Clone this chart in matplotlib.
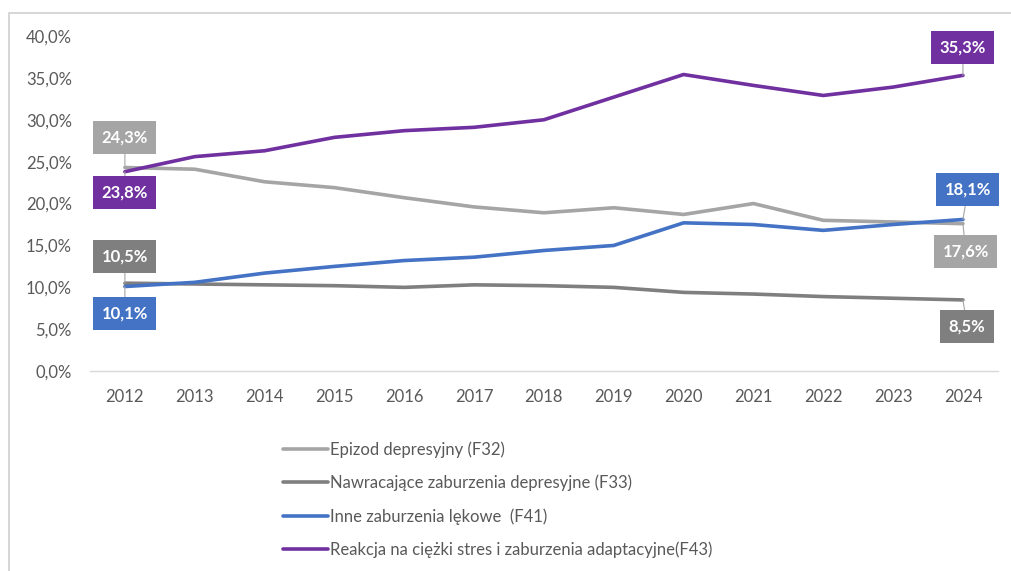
import matplotlib.pyplot as plt
from matplotlib.patches import Rectangle
from matplotlib.ticker import FuncFormatter

plt.rcParams['font.family'] = ['Lato', 'DejaVu Sans']

years = [2012, 2013, 2014, 2015, 2016, 2017, 2018, 2019, 2020, 2021, 2022, 2023, 2024]
f32 = [24.3, 24.1, 22.6, 21.9, 20.7, 19.6, 18.9, 19.5, 18.7, 20.0, 18.0, 17.8, 17.6]
f33 = [10.5, 10.4, 10.3, 10.2, 10.0, 10.3, 10.2, 10.0, 9.4, 9.2, 8.9, 8.7, 8.5]
f41 = [10.1, 10.6, 11.7, 12.5, 13.2, 13.6, 14.4, 15.0, 17.7, 17.5, 16.8, 17.5, 18.1]
f43 = [23.8, 25.6, 26.3, 27.9, 28.7, 29.1, 30.0, 32.7, 35.4, 34.1, 32.9, 33.9, 35.3]

names = ["Epizod depresyjny (F32)",
         "Nawracające zaburzenia depresyjne (F33)",
         "Inne zaburzenia lękowe  (F41)",
         "Reakcja na ciężki stres i zaburzenia adaptacyjne(F43)"]
colors = ["#A5A5A5", "#7F7F7F", "#4472C4", "#7030A0"]
series = [f32, f33, f41, f43]

# label offsets in points for first / last values: (dx, dy)
first_offsets = [(0, 21.5), (0, 19), (0, -19.5), (0, -15)]
last_offsets = [(2, -20), (3, -19), (3.6, 21.5), (0, 20)]

fig = plt.figure(figsize=(10.11, 5.71), dpi=100)
ax = fig.add_axes([0.089, 0.350, 0.898, 0.587])

x = list(range(len(years)))
lines = []
for vals, col, name in zip(series, colors, names):
    ln, = ax.plot(x, vals, color=col, linewidth=2.6, label=name,
                  solid_capstyle='round')
    lines.append(ln)

ax.set_xlim(-0.5, len(years) - 0.5)
ax.set_ylim(0, 40)
ax.set_yticks(range(0, 41, 5))
ax.yaxis.set_major_formatter(FuncFormatter(lambda v, p: f"{v:.1f}%".replace('.', ',')))
ax.set_xticks(x)
ax.set_xticklabels([str(y) for y in years])
ax.tick_params(axis='both', length=0, labelsize=12, colors='#595959')
ax.tick_params(axis='y', pad=13)
ax.tick_params(axis='x', pad=13)
for s in ['top', 'right', 'left']:
    ax.spines[s].set_visible(False)
ax.spines['bottom'].set_color('#d9d9d9')
ax.spines['bottom'].set_linewidth(1)


def label(i, val, col, dx, dy):
    txt = f"{val:.1f}%".replace('.', ',')
    ax.annotate(txt, xy=(i, val), xytext=(dx, dy), textcoords='offset points',
                ha='center', va='center', color='white', fontsize=12,
                fontweight='bold',
                bbox=dict(boxstyle='square,pad=0.5', fc=col, ec='none'),
                arrowprops=dict(arrowstyle='-', color='#A5A5A5', lw=0.8,
                                shrinkA=0, shrinkB=0))


for vals, col, fo, lo in zip(series, colors, first_offsets, last_offsets):
    label(0, vals[0], col, fo[0], fo[1])
    label(len(vals) - 1, vals[-1], col, lo[0], lo[1])

leg = fig.legend(handles=lines, loc='upper left', bbox_to_anchor=(0.265, 0.253),
                 frameon=False, fontsize=12, handlelength=2.7, handletextpad=0.1,
                 labelspacing=1.0, labelcolor='#595959')

fig.patches.append(Rectangle((9 / 1011, -0.1), 1.2, 1 - 13 / 571 + 0.1,
                             transform=fig.transFigure, fill=False,
                             ec='#d0d0d0', lw=1.2))

fig.savefig("out.png", dpi=100)
